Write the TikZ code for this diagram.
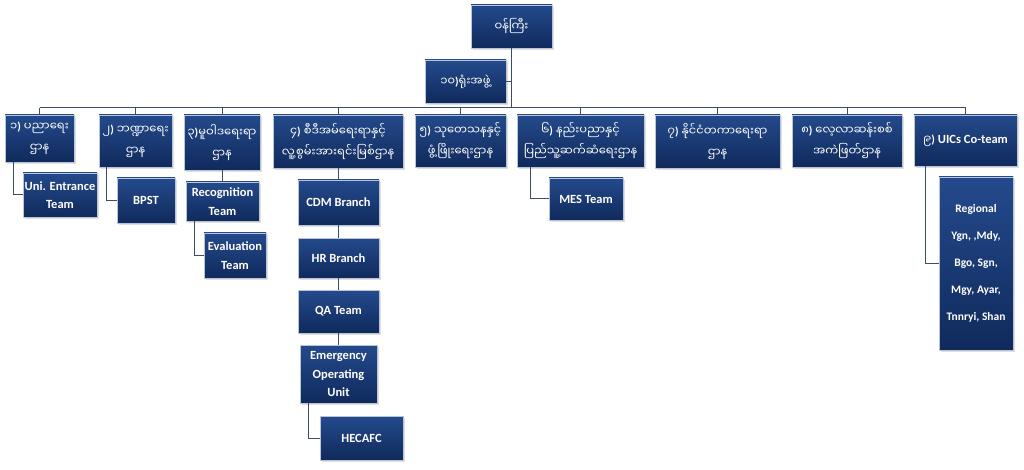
\documentclass[tikz,border=0pt]{standalone}
\usepackage{fontspec}
\setmainfont{Carlito}
\newfontfamily\my[Script=Myanmar]{Noto Sans Myanmar UI}
\newfontfamily\latf{Carlito}
\newcommand\rp{{\latf\bfseries)}}
\usetikzlibrary{shadows}
\definecolor{boxtop}{RGB}{36,74,140}
\definecolor{boxbot}{RGB}{16,42,92}
\definecolor{boxedge}{RGB}{185,196,214}
\definecolor{linec}{RGB}{58,78,108}
\tikzset{
  box/.style={draw=boxedge, line width=0.5pt, top color=boxtop, bottom color=boxbot,
    text=white, align=center, inner sep=1pt, anchor=center,
    drop shadow={opacity=0.25, shadow xshift=1.5pt, shadow yshift=-2pt}},
  lat/.style={box, font=\bfseries\fontsize{12.5}{18.5}\selectfont},
  mm/.style={box, font=\my\fontsize{11.5}{21}\selectfont},
  conn/.style={draw=linec, line width=1pt}
}
\begin{document}
\begin{tikzpicture}[x=1pt,y=-1pt]
\useasboundingbox (0,0) rectangle (1024,470);
% top
\node[mm, minimum width=81, minimum height=43] (top) at (511.5,26.5) {ဝန်ကြီး};
\node[mm, minimum width=81, minimum height=43] (office) at (465.5,81.5) {၁၀\rp ရုံးအဖွဲ့};
% level 1
\node[mm, minimum width=69, minimum height=47] (b1) at (39.5,138.5) {၁\rp{} ပညာရေး\\ဌာန};
\node[mm, minimum width=73, minimum height=52] (b2) at (135.5,141) {၂\rp{} ဘဏ္ဍာရေး\\ဌာန};
\node[mm, minimum width=76, minimum height=55] (b3) at (222,142.5) {၃\rp မူဝါဒရေးရာ\\ဌာန};
\node[mm, minimum width=130, minimum height=53] (b4) at (338,141.5) {၄\rp{} စီဒီအမ်ရေးရာနှင့်\\လူ့စွမ်းအားရင်းမြစ်ဌာန};
\node[mm, minimum width=91, minimum height=52] (b5) at (460.5,141) {၅\rp{} သုတေသနနှင့်\\ဖွံ့ဖြိုးရေးဌာန};
\node[mm, minimum width=127, minimum height=52] (b6) at (580.5,141) {၆\rp{} နည်းပညာနှင့်\\ပြည်သူ့ဆက်ဆံရေးဌာန};
\node[mm, minimum width=125, minimum height=53] (b7) at (717.5,141.5) {၇\rp{} နိုင်ငံတကာရေးရာ\\ဌာန};
\node[mm, minimum width=110, minimum height=52] (b8) at (847,141) {၈\rp{} လေ့လာဆန်းစစ်\\အကဲဖြတ်ဌာန};
\node[mm, minimum width=103, minimum height=51] (b9) at (965.5,140.5) {၉\rp{} {\latf\bfseries\fontsize{12.5}{18}\selectfont UICs Co-team}};
% children
\node[lat, minimum width=74, minimum height=44] (uni) at (60,195) {Uni. Entrance\\Team};
\node[lat, minimum width=58, minimum height=45] (bpst) at (146,200.5) {BPST};
\node[lat, minimum width=73, minimum height=39] (recog) at (222.5,201.5) {Recognition\\Team};
\node[lat, minimum width=62, minimum height=45] (eval) at (235,255.5) {Evaluation\\Team};
\node[lat, minimum width=81, minimum height=45] (cdm) at (338.5,202.5) {CDM Branch};
\node[lat, minimum width=81, minimum height=40] (hr) at (338.5,258) {HR Branch};
\node[lat, minimum width=81, minimum height=43] (qa) at (338.5,311.5) {QA Team};
\node[lat, minimum width=77, minimum height=58] (emer) at (338.5,374) {Emergency\\Operating\\Unit};
\node[lat, minimum width=83, minimum height=44] (hecafc) at (361.5,438) {HECAFC};
\node[lat, minimum width=74, minimum height=42] (mes) at (586,199) {MES Team};
\node[lat, minimum width=74, minimum height=173, font=\bfseries\fontsize{11.5}{27}\selectfont] (reg) at (976,263.5) {Regional\\Ygn, ,Mdy,\\Bgo, Sgn,\\Mgy, Ayar,\\Tnnryi, Shan};
% connectors
\coordinate (busL) at (39.5,108);
\coordinate (busR) at (965.5,108);
\draw[conn] (top.south) -- (top.south |- busL);
\draw[conn] (office.east) -- (office.east -| top.south);
\draw[conn] (busL) -- (busR);
\foreach \n in {b1,b2,b3,b4,b5,b6,b7,b8,b9}{
  \draw[conn] (\n.north) -- (\n.north |- busL);
}
\draw[conn] ([xshift=-26.5pt]b1.south) |- (uni.west);
\draw[conn] ([xshift=-29.5pt]b2.south) |- (bpst.west);
\draw[conn] (recog.north |- b3.south) -- (recog.north);
\draw[conn] ([xshift=-28.5pt]recog.south) |- (eval.west);
\draw[conn] (cdm.north |- b4.south) -- (cdm.north);
\draw[conn] (cdm.south) -- (hr.north);
\draw[conn] (hr.south) -- (qa.north);
\draw[conn] (qa.south) -- (emer.north);
\draw[conn] ([xshift=-30.5pt]emer.south) |- (hecafc.west);
\draw[conn] ([xshift=-50.5pt]b6.south) |- (mes.west);
\draw[conn] ([xshift=-40.5pt]b9.south) |- (reg.west);
\end{tikzpicture}
\end{document}
